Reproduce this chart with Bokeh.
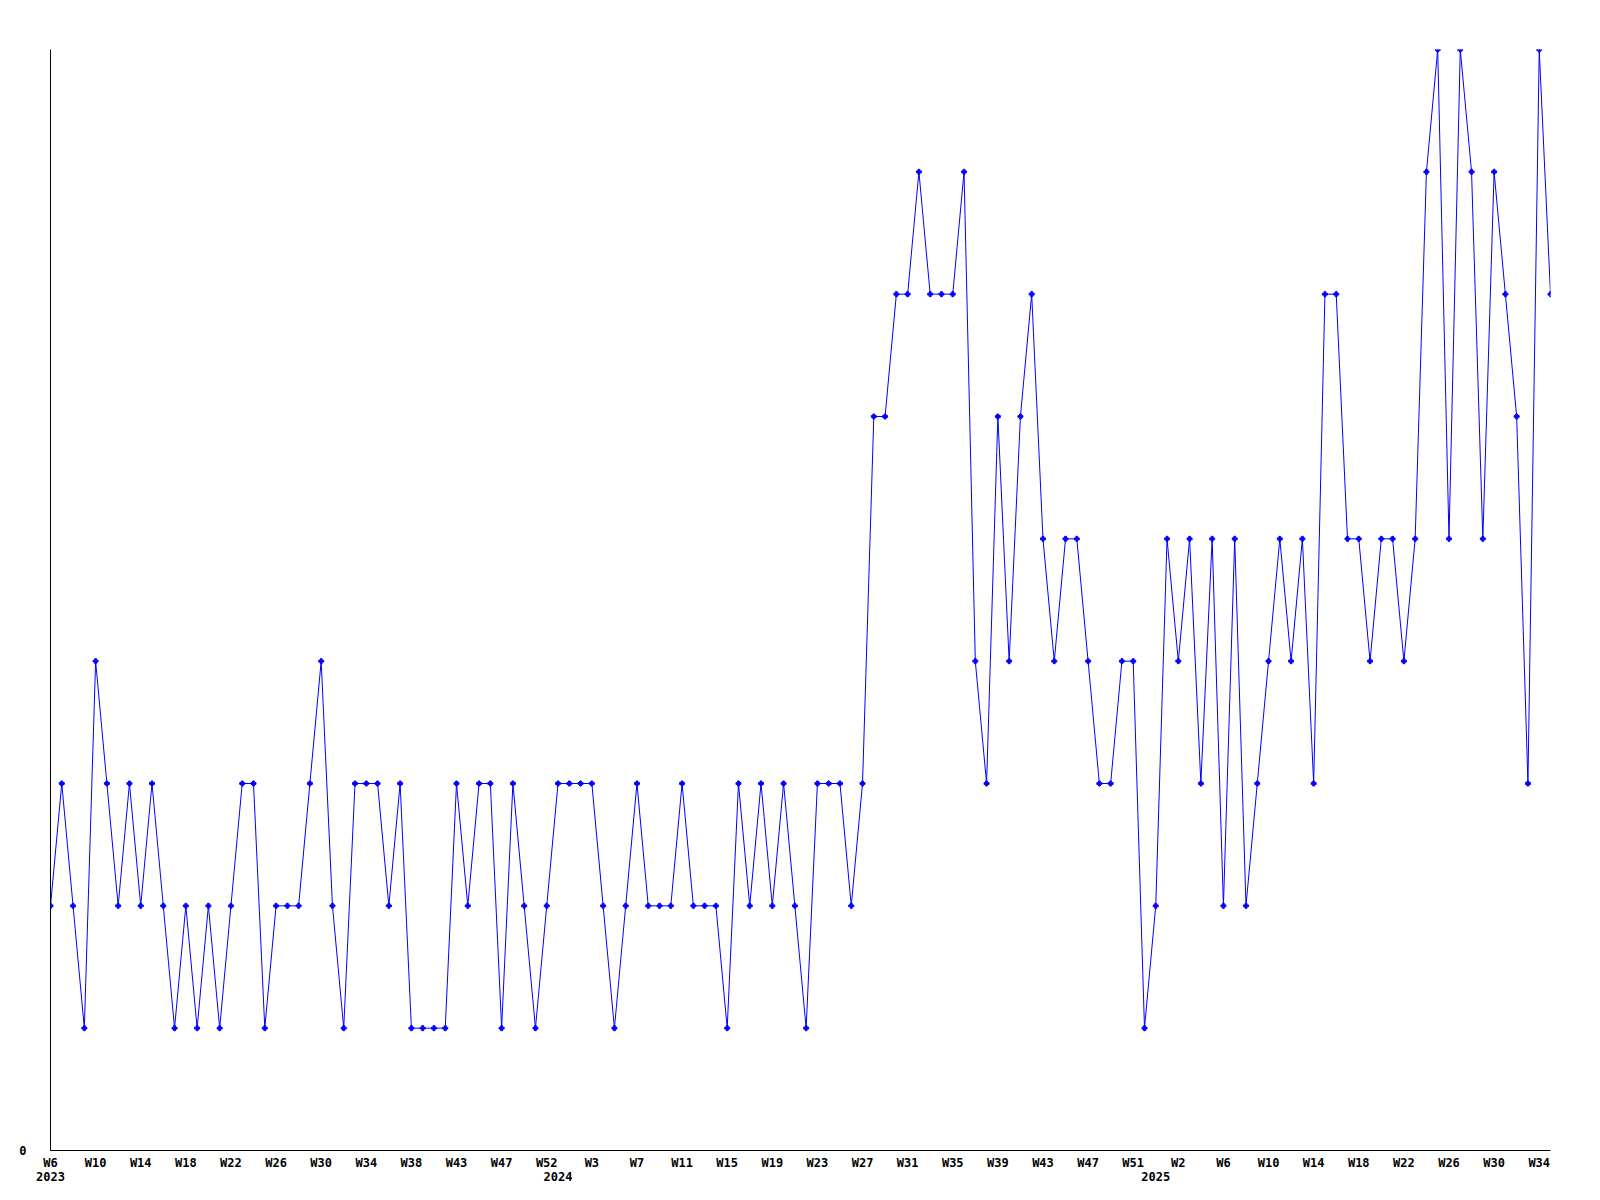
from bokeh.plotting import figure
from bokeh.models import Range1d, FixedTicker, LinearAxis
from bokeh.embed import file_html
from bokeh.resources import INLINE

# weekly values (one point per week, W6 2023 .. W35 2025)
values = [
    2, 3, 2, 1, 4, 3, 2, 3, 2, 3,
    2, 1, 2, 1, 2, 1, 2, 3, 3, 1,
    2, 2, 2, 3, 4, 2, 1, 3, 3, 3,
    2, 3, 1, 1, 1, 1, 3, 2, 3, 3,
    1, 3, 2, 1, 2, 3, 3, 3, 3, 2,
    1, 2, 3, 2, 2, 2, 3, 2, 2, 2,
    1, 3, 2, 3, 2, 3, 2, 1, 3, 3,
    3, 2, 3, 6, 6, 7, 7, 8, 7, 7,
    7, 8, 4, 3, 6, 4, 6, 7, 5, 4,
    5, 5, 4, 3, 3, 4, 4, 1, 2, 5,
    4, 5, 3, 5, 2, 5, 2, 3, 4, 5,
    4, 5, 3, 7, 7, 5, 5, 4, 5, 5,
    4, 5, 8, 9, 5, 9, 8, 5, 8, 7,
    6, 3, 9, 7,
]

# week tick labels, one for every 4th point
week_labels = [
    "W6", "W10", "W14", "W18", "W22", "W26", "W30", "W34", "W38", "W43", "W47", "W52",
    "W3", "W7", "W11", "W15", "W19", "W23", "W27", "W31", "W35", "W39", "W43", "W47", "W51",
    "W2", "W6", "W10", "W14", "W18", "W22", "W26", "W30", "W34",
]
years = ["2023", "2024", "2025"]
year_start_index = [0, 45, 98]

y_max = 9
y_labels = ["0"]

x = list(range(len(values)))
tick_idx = list(range(0, len(values), 4))

FONT = "DejaVu Sans Mono"

p = figure(
    frame_width=1500, frame_height=1101,
    output_backend="svg", toolbar_location=None,
    x_range=Range1d(0, len(values) - 1), y_range=Range1d(0, y_max),
    min_border_left=50, min_border_right=40, min_border_top=49, min_border_bottom=40,
)
p.outline_line_color = None
p.xgrid.grid_line_color = None
p.ygrid.grid_line_color = None
p.background_fill_color = "white"
p.border_fill_color = "white"

xa = p.xaxis[0]
xa.ticker = FixedTicker(ticks=tick_idx)
xa.major_label_overrides = {t: lab for t, lab in zip(tick_idx, week_labels)}
xa.major_tick_line_color = None
xa.minor_tick_line_color = None
xa.axis_line_color = "black"
xa.axis_line_width = 1
xa.major_label_text_font = FONT
xa.major_label_text_font_style = "bold"
xa.major_label_text_font_size = "12px"
xa.major_label_text_color = "black"
xa.major_label_standoff = -1

ya = p.yaxis[0]
ya.ticker = FixedTicker(ticks=[0])
ya.major_label_overrides = {0: y_labels[0]}
ya.major_tick_line_color = None
ya.minor_tick_line_color = None
ya.axis_line_color = "black"
ya.axis_line_width = 1
ya.major_label_text_font = FONT
ya.major_label_text_font_style = "bold"
ya.major_label_text_font_size = "12px"
ya.major_label_text_color = "black"
ya.major_label_standoff = 18

year_axis = LinearAxis(
    ticker=FixedTicker(ticks=year_start_index),
    major_label_overrides={t: y for t, y in zip(year_start_index, years)},
    axis_line_color=None,
    major_tick_line_color=None,
    minor_tick_line_color=None,
    major_label_text_font=FONT,
    major_label_text_font_style="bold",
    major_label_text_font_size="12px",
    major_label_text_color="black",
    major_label_standoff=-7,
)
p.add_layout(year_axis, "below")

p.line(x, values, line_color="#0000ff", line_width=1)
p.scatter(x, values, marker="plus", size=5, color="#0000ff")

open("out.html", "w").write(file_html(p, INLINE))
